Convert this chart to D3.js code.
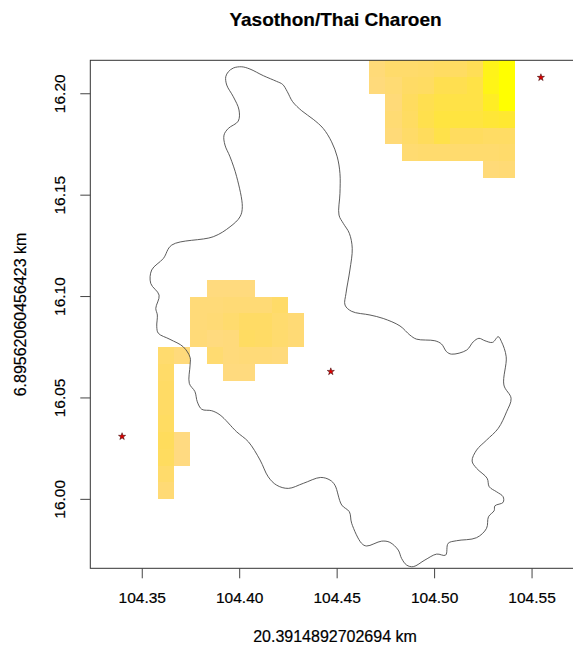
<!DOCTYPE html>
<html>
<head>
<meta charset="utf-8">
<script src="https://cdn.jsdelivr.net/npm/d3@7"></script>
<style>
  html, body { margin: 0; padding: 0; background: #fff; }
  text { font-family: "Liberation Sans", Arial, sans-serif; fill: #000; stroke: #000; stroke-width: 0.2px; }
</style>
</head>
<body>
<div id="chart"></div>
<script>
// raster cells are 1/120 degree, rows listed north to south, columns west to east
const _ = null;
const cellsPerDegree = 120;

// north-east patch
const neWestIndex = 104 * 120 + 56;
const neNorthIndex = 16 * 120 + 26;
const neRows = [
  [12, 20, 20, 22, 26, 26, 34, 78, 100],
  [10, 15, 24, 26, 38, 38, 44, 80, 100],
  [_, 12, 28, 38, 44, 44, 44, 68, 100],
  [_, 15, 26, 40, 48, 48, 48, 54, 58],
  [_, 12, 22, 30, 42, 28, 28, 25, 25],
  [_, _, 16, 18, 18, 18, 18, 18, 20],
  [_, _, _, _, _, _, _, 12, 14]
];

// south-west patch
const swWestIndex = 104 * 120 + 43;
const swNorthIndex = 16 * 120 + 13;
const swRows = [
  [_, _, _, 8, 8, 8, _, _, _],
  [_, _, 12, 12, 14, 14, 14, 22, _],
  [_, _, 12, 14, 18, 24, 24, 18, 14],
  [_, _, 12, 8, 10, 26, 24, 18, 14],
  [18, 10, _, 16, 10, 12, 12, 10, _],
  [22, _, _, _, 8, 8, _, _, _],
  [24],
  [24],
  [26],
  [30, 6],
  [28, 6],
  [20],
  [14]
];

// towns
const townLon = [104.5548, 104.447, 104.3399];
const townLat = [16.208, 16.063, 16.031];

// province boundary
const boundaryLon = [
  104.3931, 104.3944, 104.3970, 104.4013, 104.4055, 104.4124, 104.4192, 104.4223, 104.4247, 104.4274,
  104.4321, 104.4380, 104.4431, 104.4474, 104.4503, 104.4517, 104.4517, 104.4512, 104.4534, 104.4565,
  104.4580, 104.4568, 104.4548, 104.4543, 104.4577, 104.4671, 104.4739, 104.4825, 104.4876, 104.4910,
  104.5004, 104.5038, 104.5064, 104.5090, 104.5167, 104.5201, 104.5230, 104.5261, 104.5300, 104.5329,
  104.5346, 104.5370, 104.5358, 104.5395, 104.5372, 104.5329, 104.5269, 104.5218, 104.5195, 104.5218,
  104.5272, 104.5283, 104.5321, 104.5354, 104.5354, 104.5312, 104.5308, 104.5279, 104.5269, 104.5218,
  104.5115, 104.5072, 104.5059, 104.5013, 104.4953, 104.4893, 104.4859, 104.4833, 104.4816, 104.4773,
  104.4731, 104.4654, 104.4628, 104.4577, 104.4565, 104.4526, 104.4491, 104.4466, 104.4418, 104.4329,
  104.4252, 104.4192, 104.4149, 104.4107, 104.4047, 104.3987, 104.3902, 104.3859, 104.3808, 104.3785,
  104.3773, 104.3744, 104.3748, 104.3748, 104.3713, 104.3645, 104.3585, 104.3577, 104.3580, 104.3572,
  104.3589, 104.3546, 104.3551, 104.3611, 104.3654, 104.3867, 104.3953, 104.4004, 104.4016, 104.3987,
  104.3953, 104.3927, 104.3922, 104.3944, 104.3995, 104.3999, 104.3970, 104.3936
];
const boundaryLat = [
  16.2084, 16.2108, 16.2127, 16.2133, 16.2122, 16.2089, 16.2061, 16.2046, 16.2010, 16.1961,
  16.1916, 16.1874, 16.1829, 16.1763, 16.1689, 16.1607, 16.1509, 16.1402, 16.1361, 16.1312,
  16.1238, 16.1131, 16.1016, 16.0958, 16.0927, 16.0909, 16.0892, 16.0855, 16.0810, 16.0790,
  16.0782, 16.0766, 16.0728, 16.0716, 16.0736, 16.0777, 16.0794, 16.0782, 16.0774, 16.0802,
  16.0777, 16.0703, 16.0564, 16.0498, 16.0432, 16.0350, 16.0292, 16.0243, 16.0189, 16.0153,
  16.0104, 16.0062, 16.0037, 16.0013, 15.9985, 15.9968, 15.9944, 15.9914, 15.9857, 15.9811,
  15.9796, 15.9783, 15.9725, 15.9730, 15.9701, 15.9668, 15.9676, 15.9709, 15.9750, 15.9788,
  15.9794, 15.9770, 15.9783, 15.9882, 15.9939, 15.9972, 16.0070, 16.0095, 16.0108, 16.0079,
  16.0054, 16.0070, 16.0111, 16.0194, 16.0284, 16.0333, 16.0416, 16.0437, 16.0444, 16.0481,
  16.0531, 16.0572, 16.0662, 16.0700, 16.0752, 16.0789, 16.0819, 16.0851, 16.0909, 16.0942,
  16.1007, 16.1065, 16.1131, 16.1188, 16.1254, 16.1295, 16.1344, 16.1393, 16.1443, 16.1591,
  16.1689, 16.1747, 16.1796, 16.1829, 16.1865, 16.1920, 16.1985, 16.2043
];

// axis ticks and labels
const lonTicks = [104.35, 104.40, 104.45, 104.50, 104.55];
const latTicks = [16.00, 16.05, 16.10, 16.15, 16.20];
const titleText = "Yasothon/Thai Charoen";
const xLabel = "20.3914892702694 km";
const yLabel = "6.89562060456423 km";

const width = 573;
const height = 646;

const x = d3.scaleLinear().domain([104.3236, 104.6]).range([90.3, 629]);
const y = d3.scaleLinear().domain([15.966, 16.2165]).range([568.3, 60.3]);

const color = d3.scaleLinear()
  .domain([0, 30, 60, 100])
  .range(["#ffd98a", "#ffdc5c", "#ffe92e", "#ffff00"]);

const svg = d3.select("#chart").append("svg")
  .attr("width", width)
  .attr("height", height)
  .style("display", "block");

// flatten a patch into one record per filled cell
function patchCells(rows, westIndex, northIndex) {
  const cells = [];
  rows.forEach((row, r) => {
    row.forEach((value, c) => {
      if (value === null) return;
      cells.push({
        west: (westIndex + c) / cellsPerDegree,
        east: (westIndex + c + 1) / cellsPerDegree,
        north: (northIndex - r) / cellsPerDegree,
        south: (northIndex - r - 1) / cellsPerDegree,
        value
      });
    });
  });
  return cells;
}

const cells = patchCells(neRows, neWestIndex, neNorthIndex)
  .concat(patchCells(swRows, swWestIndex, swNorthIndex));

svg.append("g")
  .attr("shape-rendering", "crispEdges")
  .selectAll("rect")
  .data(cells)
  .join("rect")
  .attr("x", d => x(d.west))
  .attr("y", d => y(d.north))
  .attr("width", d => x(d.east) - x(d.west))
  .attr("height", d => y(d.south) - y(d.north))
  .attr("fill", d => color(d.value));

// boundary
const line = d3.line()
  .x(i => x(boundaryLon[i]))
  .y(i => y(boundaryLat[i]))
  .curve(d3.curveCatmullRomClosed.alpha(0.5));

svg.append("path")
  .attr("d", line(d3.range(boundaryLon.length)))
  .attr("fill", "none")
  .attr("stroke", "#4a4a4a")
  .attr("stroke-width", 0.9);

// towns
svg.append("g")
  .selectAll("path")
  .data(townLon.map((lon, i) => [lon, townLat[i]]))
  .join("path")
  .attr("transform", d => `translate(${x(d[0])},${y(d[1])})`)
  .attr("d", d3.symbol().type(d3.symbolStar).size(16))
  .attr("fill", "#e00000")
  .attr("stroke", "#300000")
  .attr("stroke-width", 0.5);

// plot box
svg.append("rect")
  .attr("x", x.range()[0])
  .attr("y", y.range()[1])
  .attr("width", x.range()[1] - x.range()[0])
  .attr("height", y.range()[0] - y.range()[1])
  .attr("fill", "none")
  .attr("stroke", "#333")
  .attr("stroke-width", 1);

// axes
const xAxis = svg.append("g")
  .attr("transform", `translate(0,${y.range()[0]})`)
  .call(d3.axisBottom(x).tickValues(lonTicks).tickFormat(d3.format(".2f")).tickSize(10).tickPadding(14));
xAxis.select(".domain").remove();
xAxis.selectAll("line").attr("stroke", "#444");
xAxis.selectAll("text").style("font-size", "15.5px").attr("font-family", null);

const yAxis = svg.append("g")
  .attr("transform", `translate(${x.range()[0]},0)`)
  .call(d3.axisLeft(y).tickValues(latTicks).tickFormat(d3.format(".2f")).tickSize(10));
yAxis.select(".domain").remove();
yAxis.selectAll("line").attr("stroke", "#444");
yAxis.selectAll("text")
  .style("font-size", "15.5px")
  .attr("font-family", null)
  .attr("text-anchor", "middle")
  .attr("x", null)
  .attr("dy", null)
  .attr("transform", d => `translate(-25,${y(d)}) rotate(-90)`)
  .attr("y", 0);
yAxis.selectAll(".tick").attr("transform", null);
yAxis.selectAll(".tick line")
  .attr("y1", d => y(d))
  .attr("y2", d => y(d));

// titles
svg.append("text")
  .attr("x", 335.5)
  .attr("y", 26)
  .attr("text-anchor", "middle")
  .style("font-size", "19px")
  .style("font-weight", "bold")
  .text(titleText);

svg.append("text")
  .attr("x", 335)
  .attr("y", 642)
  .attr("text-anchor", "middle")
  .style("font-size", "16px")
  .text(xLabel);

svg.append("text")
  .attr("transform", "translate(26,314.5) rotate(-90)")
  .attr("text-anchor", "middle")
  .style("font-size", "16px")
  .text(yLabel);
</script>
</body>
</html>
